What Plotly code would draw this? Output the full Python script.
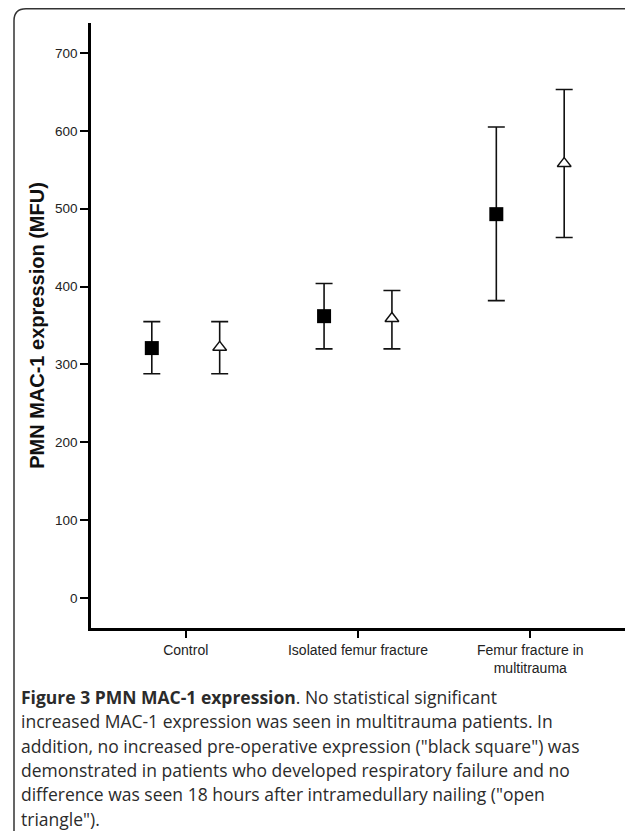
import plotly.graph_objects as go

# категории и значения (среднее и границы доверительного интервала)
groups = ["Control", "Isolated femur fracture", "Femur fracture in<br>multitrauma"]
pre_mean = [321, 362, 493]
pre_hi = [355, 404, 605]
pre_lo = [288, 320, 382]
post_mean = [322, 359, 558]
post_hi = [355, 395, 653]
post_lo = [288, 320, 463]
y_ticks = [0, 100, 200, 300, 400, 500, 600, 700]

caption_lines = [
    "<b>Figure 3 PMN MAC-1 expression</b>. No statistical significant",
    "increased MAC-1 expression was seen in multitrauma patients. In",
    "addition, no increased pre-operative expression (\"black square\") was",
    "demonstrated in patients who developed respiratory failure and no",
    "difference was seen 18 hours after intramedullary nailing (\"open",
    "triangle\").",
]

# страница имеет отступ 8px, поэтому фигура чуть меньше окна
W, H = 617, 823
L, R, T, B = 83, 0, 15, 203
pw, ph = W - L - R, H - T - B


def px(x):
    return (x - L) / pw


def py(y):
    return (H - B - y) / ph


xs = list(range(len(groups)))
off = 0.197

fig = go.Figure()

# черный квадрат - до операции
fig.add_trace(go.Scatter(
    x=[x - off for x in xs], y=pre_mean, mode='markers',
    marker=dict(symbol='square', size=14, color='black'),
    error_y=dict(type='data', symmetric=False,
                 array=[h - m for h, m in zip(pre_hi, pre_mean)],
                 arrayminus=[m - l for m, l in zip(pre_mean, pre_lo)],
                 color='#111', thickness=1.6, width=8.5),
    showlegend=False))

# открытый треугольник - через 18 часов
fig.add_trace(go.Scatter(
    x=[x + off for x in xs], y=post_mean, mode='markers',
    marker=dict(symbol='triangle-up', size=12, color='white',
                line=dict(color='#111', width=1.4)),
    error_y=dict(type='data', symmetric=False,
                 array=[h - m for h, m in zip(post_hi, post_mean)],
                 arrayminus=[m - l for m, l in zip(post_mean, post_lo)],
                 color='#111', thickness=1.6, width=8.5),
    showlegend=False))

# рамка с закругленными углами (правый и нижний края за пределами)
x0, x1, y0, y1, r = 6, 632, 0.8, 840, 12
path = (f"M {px(x0)},{py(y0 + r)} Q {px(x0)},{py(y0)} {px(x0 + r)},{py(y0)} "
        f"L {px(x1 - r)},{py(y0)} Q {px(x1)},{py(y0)} {px(x1)},{py(y0 + r)} "
        f"L {px(x1)},{py(y1 - r)} Q {px(x1)},{py(y1)} {px(x1 - r)},{py(y1)} "
        f"L {px(x0 + r)},{py(y1)} Q {px(x0)},{py(y1)} {px(x0)},{py(y1 - r)} Z")
fig.add_shape(type='path', path=path, xref='paper', yref='paper',
              line=dict(color='#333', width=1.5), layer='below')

# подпись к рисунку
for i, line in enumerate(caption_lines):
    fig.add_annotation(text=line, xref='paper', yref='paper',
                       x=px(11), y=py(689 + i * 24.3), xanchor='left', yanchor='middle',
                       showarrow=False,
                       font=dict(family='Open Sans', size=17.5, color='#2b2b2b'))

fig.update_layout(
    width=W, height=H,
    margin=dict(l=L, r=R, t=T, b=B),
    paper_bgcolor='white', plot_bgcolor='white',
    font=dict(family='Arial, Liberation Sans', color='#222'),
    xaxis=dict(range=[-0.55, 2.55], tickvals=xs, ticktext=groups,
               showgrid=False, zeroline=False, showline=True, linecolor='black',
               linewidth=2.6, ticks='outside', ticklen=7, tickwidth=1.5,
               tickcolor='black', tickfont=dict(size=14)),
    yaxis=dict(range=[-38.5, 738.5], tickvals=y_ticks,
               showgrid=False, zeroline=False, showline=True, linecolor='black',
               linewidth=2.6, ticks='outside', ticklen=8, tickwidth=1.5,
               tickcolor='black', tickfont=dict(size=13.5),
               title=dict(text='<b>PMN MAC-1 expression (MFU)</b>',
                          font=dict(size=20, color='#111'), standoff=5)),
)

fig.write_html("out.html")
